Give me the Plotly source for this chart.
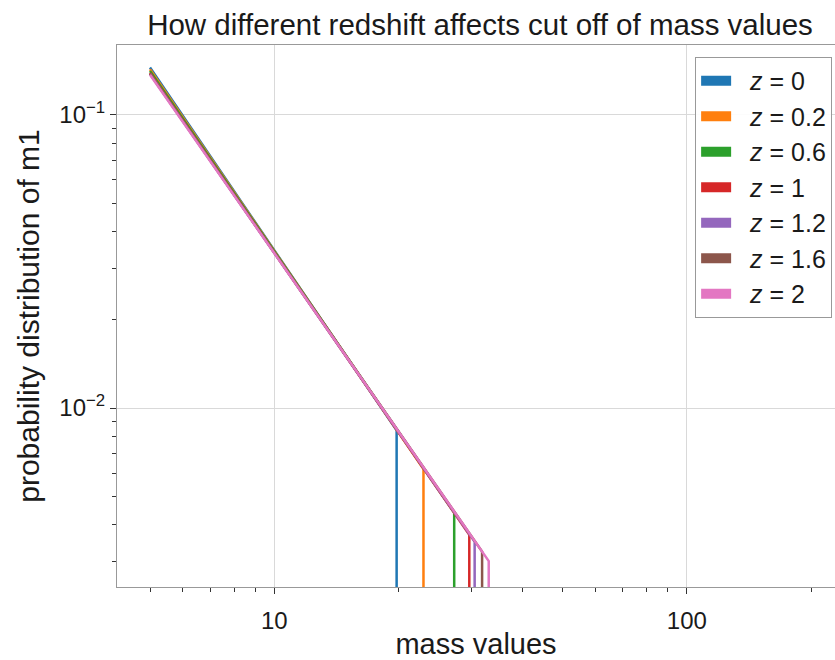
import plotly.graph_objects as go

# ---- data ----
z_values = [0, 0.2, 0.6, 1, 1.2, 1.6, 2]
z_labels = ["0", "0.2", "0.6", "1", "1.2", "1.6", "2"]
mass_min = 5.0
cutoff_mass = [19.8, 23.0, 27.3, 29.7, 30.6, 31.9, 33.1]
pdf_at_min = [0.145, 0.143, 0.141, 0.139, 0.138, 0.138, 0.137]
pdf_at_cutoff = [0.0084, 0.0062, 0.0044, 0.0037, 0.0035, 0.00324, 0.00301]
pdf_beyond_cutoff = 1e-5  # zero probability above the cut-off (clipped on log axis)
colors = ["#1f77b4", "#ff7f0e", "#2ca02c", "#d62728", "#9467bd", "#8c564b", "#e377c2"]

x_major = [10, 100]
x_major_text = ["10", "100"]
x_minor = [5, 6, 7, 8, 9, 20, 30, 40, 50, 60, 70, 80, 90, 200]
y_major = [0.01, 0.1]
y_major_text = ["10<sup>−2</sup>", "10<sup>−1</sup>"]
y_minor = [0.003, 0.004, 0.005, 0.006, 0.007, 0.008, 0.009,
           0.02, 0.03, 0.04, 0.05, 0.06, 0.07, 0.08, 0.09]

FONT = "Liberation Sans, Arial, Helvetica, sans-serif"
NBSP = "\u00a0"

fig = go.Figure()
for i, z in enumerate(z_values):
    fig.add_trace(go.Scatter(
        x=[mass_min, cutoff_mass[i], cutoff_mass[i]],
        y=[pdf_at_min[i], pdf_at_cutoff[i], pdf_beyond_cutoff],
        mode="lines", line=dict(color=colors[i], width=2.5),
        showlegend=False, legendgroup=f"g{i}",
    ))
for i, z in enumerate(z_values):
    fig.add_trace(go.Scatter(
        x=[None], y=[None], mode="lines",
        line=dict(color=colors[i], width=12),
        name=f"{NBSP*2}<i>z</i> = {z_labels[i]}", legendgroup=f"g{i}",
    ))

fig.update_layout(
    width=835, height=660,
    margin=dict(l=117, r=0, t=45, b=73),
    paper_bgcolor="white", plot_bgcolor="white",
    font=dict(family=FONT, color="#1a1a1a"),
    title=dict(text="How different redshift affects cut off of mass values",
               x=0.5056, xref="paper", xanchor="center", y=0.962, yanchor="middle",
               font=dict(size=29.5, color="#1a1a1a")),
    legend=dict(x=0.996, xanchor="right", y=0.978, yanchor="top",
                bordercolor="#999", borderwidth=1, bgcolor="rgba(255,255,255,0.9)",
                font=dict(size=25, color="#1a1a1a"), tracegroupgap=0,
                itemwidth=30),
)
fig.update_xaxes(
    type="log", range=[0.619, 2.359],
    tickvals=x_major, ticktext=x_major_text,
    ticks="outside", ticklen=6, tickcolor="#333", tickfont=dict(size=24),
    ticklabelstandoff=6,
    showgrid=True, gridcolor="#d9d9d9", gridwidth=1,
    showline=True, linecolor="#999", linewidth=1, mirror=True,
    minor=dict(tickvals=x_minor, ticks="outside", ticklen=4, tickcolor="#333", showgrid=False),
    title=dict(text="mass values", font=dict(size=29), standoff=6),
    zeroline=False,
)
fig.update_yaxes(
    type="log", range=[-2.610, -0.762],
    tickvals=y_major, ticktext=y_major_text,
    ticks="outside", ticklen=6, tickcolor="#333", tickfont=dict(size=24),
    showgrid=True, gridcolor="#d9d9d9", gridwidth=1,
    showline=True, linecolor="#999", linewidth=1, mirror=True,
    minor=dict(tickvals=y_minor, ticks="outside", ticklen=4, tickcolor="#333", showgrid=False),
    title=dict(text="probability distribution of m1", font=dict(size=30), standoff=10),
    zeroline=False,
)

fig.write_html("out.html")
